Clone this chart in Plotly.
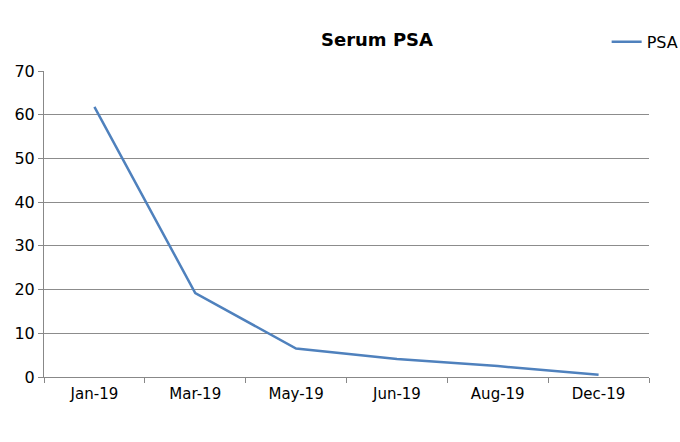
import plotly.graph_objects as go

months = ["Jan-19", "Mar-19", "May-19", "Jun-19", "Aug-19", "Dec-19"]
psa = [61.8, 19.2, 6.5, 4.1, 2.5, 0.5]
y_ticks = [0, 10, 20, 30, 40, 50, 60, 70]

fig = go.Figure()
fig.add_trace(go.Scatter(x=months, y=psa, mode="lines", name="PSA",
                         line=dict(color="#4f81bd", width=2.5)))

font = "DejaVu Sans, sans-serif"
fig.update_layout(
    width=680, height=442,
    margin=dict(l=44, r=31, t=71, b=65, autoexpand=False),
    paper_bgcolor="white", plot_bgcolor="white",
    title=dict(text="<b>Serum PSA</b>", x=377 / 680, xanchor="center",
               y=1 - 40 / 442, yanchor="middle",
               font=dict(family=font, size=18, color="#000")),
    showlegend=True,
    legend=dict(x=0.93, y=1.095, xanchor="left", yanchor="middle",
                font=dict(family=font, size=16, color="#000"),
                bgcolor="rgba(0,0,0,0)", itemwidth=30),
    font=dict(family=font, size=15, color="#000"),
)
fig.update_xaxes(type="category", range=[-0.5, 5.5], tickson="boundaries",
                 ticks="outside", ticklen=5, tickcolor="#888", showline=True,
                 linecolor="#888", linewidth=1, showgrid=False,
                 ticklabelstandoff=3, tickfont=dict(size=15))
fig.update_yaxes(range=[0, 70], tickvals=y_ticks, ticks="outside", ticklen=5,
                 tickcolor="#888", showline=True, linecolor="#888", linewidth=1,
                 showgrid=True, gridcolor="#8c8c8c", gridwidth=1, zeroline=False,
                 tickfont=dict(size=16))
fig.write_html("out.html")
